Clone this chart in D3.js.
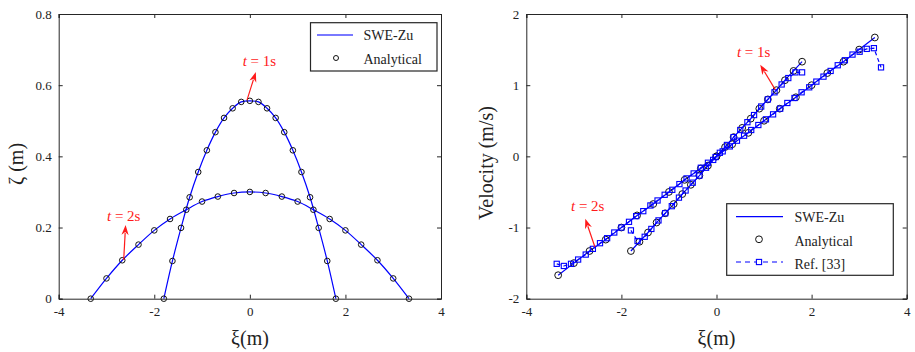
<!DOCTYPE html>
<html><head><meta charset="utf-8">
<script src="https://cdn.jsdelivr.net/npm/d3@7"></script>
<style>body{margin:0;background:#fff;} svg{display:block;font-family:"Liberation Serif","Times New Roman",serif;} text{font-family:"Liberation Serif","Times New Roman",serif !important;}</style>
</head><body>
<svg id="c" width="915" height="352"></svg>
<script>
// ---------- data ----------
const xTicks = [-4, -2, 0, 2, 4];
const zetaTicks = [0, 0.2, 0.4, 0.6, 0.8];
const velTicks = [-2, -1, 0, 1, 2];

// Free surface, t = 1 s
const xi1 = [-1.80,-1.62,-1.44,-1.26,-1.08,-0.90,-0.72,-0.54,-0.36,-0.18,0,0.18,0.36,0.54,0.72,0.90,1.08,1.26,1.44,1.62,1.80];
const zeta1 = [0,0.106,0.199,0.285,0.356,0.417,0.468,0.508,0.535,0.553,0.556,0.553,0.535,0.508,0.468,0.417,0.356,0.285,0.199,0.106,0];
// Free surface, t = 2 s
const xi2 = [-3.33,-3.00,-2.67,-2.33,-2.00,-1.67,-1.33,-1.00,-0.67,-0.33,0,0.33,0.67,1.00,1.33,1.67,2.00,2.33,2.67,3.00,3.33];
const zeta2 = [0,0.057,0.108,0.152,0.192,0.224,0.250,0.273,0.287,0.297,0.300,0.297,0.287,0.273,0.250,0.224,0.192,0.152,0.108,0.057,0];

// Velocity, analytical / SWE-Zu
const vel1 = [-1.33,-1.20,-1.07,-0.93,-0.80,-0.67,-0.53,-0.40,-0.27,-0.13,0,0.13,0.27,0.40,0.53,0.67,0.80,0.93,1.07,1.20,1.33];
const vel2 = [-1.67,-1.50,-1.33,-1.17,-1.00,-0.83,-0.67,-0.50,-0.33,-0.17,0,0.17,0.33,0.50,0.67,0.83,1.00,1.17,1.33,1.50,1.67];

// Velocity, Ref. [33]
const refXi1 = [-1.80,-1.66,-1.51,-1.37,-1.22,-1.08,-0.94,-0.79,-0.65,-0.50,-0.36,-0.22,-0.07,0.07,0.22,0.36,0.50,0.65,0.79,0.94,1.08,1.22,1.37,1.51,1.66,1.80];
const refVel1 = [-1.04,-1.19,-1.13,-1.02,-0.90,-0.80,-0.70,-0.58,-0.48,-0.37,-0.27,-0.16,-0.05,0.05,0.16,0.27,0.37,0.48,0.58,0.70,0.80,0.90,1.01,1.10,1.18,1.18];
const refXi2 = [-3.36,-3.21,-3.06,-2.91,-2.75,-2.60,-2.45,-2.30,-2.15,-2.00,-1.84,-1.69,-1.54,-1.39,-1.24,-1.09,-0.93,-0.78,-0.63,-0.48,-0.33,-0.18,-0.02,0.13,0.28,0.43,0.58,0.73,0.88,1.04,1.19,1.34,1.49,1.64,1.79,1.95,2.10,2.25,2.40,2.55,2.70,2.86,3.01,3.16,3.31,3.46];
const refVel2 = [-1.51,-1.54,-1.51,-1.45,-1.38,-1.30,-1.22,-1.15,-1.07,-1.00,-0.92,-0.84,-0.77,-0.69,-0.62,-0.54,-0.47,-0.39,-0.31,-0.24,-0.16,-0.09,-0.01,0.07,0.14,0.22,0.29,0.37,0.44,0.52,0.59,0.67,0.75,0.82,0.90,0.97,1.05,1.12,1.20,1.28,1.35,1.43,1.47,1.51,1.52,1.25];

// annotations: [label, textX, textY, arrowFromX, arrowFromY, arrowToX, arrowToY] in data units
const annLeft = [["1s", -0.15, 0.654, -0.06, 0.558, 0.125, 0.637], ["2s", -2.99, 0.218, -2.64, 0.109, -2.60, 0.207]];
const annRight = [["1s", 0.43, 1.40, 1.235, 0.937, 0.92, 1.288], ["2s", -3.06, -0.77, -2.557, -1.274, -2.76, -0.875]];

const legendLeft = ["SWE-Zu", "Analytical"];
const legendRight = ["SWE-Zu", "Analytical", "Ref. [33]"];

// ---------- drawing ----------
const svg = d3.select("#c");
const BLUE = "#0000ff", RED = "#ff1a1a", AX = "#262626";
const SERIF = "'Liberation Serif','Times New Roman',serif";
const fmt = d => String(d);

function zip(a, b) { return a.map((v, i) => [v, b[i]]); }

function frame(g, x, y, yt) {
  const [x0, x1] = x.range(), [y1, y0] = y.range();
  const styleAxis = sel => {
    sel.attr("font-family", SERIF).attr("font-size", 13);
    sel.selectAll("path.domain").attr("stroke", AX);
    sel.selectAll(".tick line").attr("stroke", AX);
    sel.selectAll("text").attr("fill", "#222");
  };
  g.append("g").attr("transform", `translate(0,${y1})`).call(d3.axisBottom(x).tickValues(xTicks).tickFormat(fmt).tickSize(-4).tickPadding(8)).call(styleAxis);
  g.append("g").attr("transform", `translate(0,${y0})`).call(d3.axisTop(x).tickValues(xTicks).tickFormat("").tickSize(-4)).call(styleAxis);
  g.append("g").attr("transform", `translate(${x0},0)`).call(d3.axisLeft(y).tickValues(yt).tickFormat(fmt).tickSize(-4).tickPadding(7)).call(styleAxis);
  g.append("g").attr("transform", `translate(${x1},0)`).call(d3.axisRight(y).tickValues(yt).tickFormat("").tickSize(-4)).call(styleAxis);
  g.selectAll("path.domain").attr("stroke-width", 1);
}

function arrows(g, x, y, anns) {
  anns.forEach(a => {
    const t = g.append("text").attr("x", x(a[1])).attr("y", y(a[2])).attr("fill", RED).style("font-size", "15px");
    t.append("tspan").style("font-style", "italic").text("t");
    t.append("tspan").text(" = " + a[0]);
    const fx = x(a[3]), fy = y(a[4]), tx = x(a[5]), ty = y(a[6]);
    const ang = Math.atan2(ty - fy, tx - fx), L = 10, W = 3.6;
    const bx = tx - L * Math.cos(ang), by = ty - L * Math.sin(ang);
    g.append("line").attr("x1", fx).attr("y1", fy).attr("x2", bx + 2 * Math.cos(ang)).attr("y2", by + 2 * Math.sin(ang))
      .attr("stroke", RED).attr("stroke-width", 1.2);
    const nx = -Math.sin(ang), ny = Math.cos(ang);
    const bx2 = tx - (L - 3) * Math.cos(ang), by2 = ty - (L - 3) * Math.sin(ang);
    g.append("path").attr("d", `M${tx},${ty}L${bx + nx * W},${by + ny * W}L${bx2},${by2}L${bx - nx * W},${by - ny * W}Z`).attr("fill", RED);
  });
}

// ---- left panel ----
const gL = svg.append("g");
const xL = d3.scaleLinear().domain([-4, 4]).range([58.7, 441]);
const yL = d3.scaleLinear().domain([0, 0.8]).range([298.7, 14]);
const lineL = d3.line().x(d => xL(d[0])).y(d => yL(d[1])).curve(d3.curveCatmullRom.alpha(0.5));
[zip(xi1, zeta1), zip(xi2, zeta2)].forEach(s => {
  gL.append("path").attr("d", lineL(s)).attr("fill", "none").attr("stroke", BLUE).attr("stroke-width", 1.2);
});
[zip(xi1, zeta1), zip(xi2, zeta2)].forEach(s => {
  gL.append("g").selectAll("circle").data(s).join("circle").attr("cx", d => xL(d[0])).attr("cy", d => yL(d[1]))
    .attr("r", 2.8).attr("fill", "none").attr("stroke", "#111").attr("stroke-width", 1);
});
frame(gL, xL, yL, zetaTicks);
arrows(gL, xL, yL, annLeft);
gL.append("text").attr("x", 250).attr("y", 345).attr("text-anchor", "middle").style("font-size", "20px").attr("fill", "#222").text("ξ(m)");
gL.append("text").attr("transform", "translate(23,164) rotate(-90)").attr("text-anchor", "middle").style("font-size", "20px").attr("fill", "#222").text("ζ (m)");
// legend left
const lgL = gL.append("g");
lgL.append("rect").attr("x", 310.5).attr("y", 22.7).attr("width", 126.5).attr("height", 48.3).attr("fill", "#fff").attr("stroke", AX).attr("stroke-width", 1.2);
lgL.append("line").attr("x1", 317).attr("x2", 353).attr("y1", 35).attr("y2", 35).attr("stroke", BLUE).attr("stroke-opacity", 0.7).attr("stroke-width", 1.5);
lgL.append("circle").attr("cx", 336).attr("cy", 58).attr("r", 2.5).attr("fill", "none").attr("stroke", "#111");
legendLeft.forEach((t, i) => lgL.append("text").attr("x", 363.5).attr("y", 40 + i * 24).style("font-size", "14px").attr("fill", "#222").text(t));

// ---- right panel ----
const gR = svg.append("g");
const xR = d3.scaleLinear().domain([-4, 4]).range([526.3, 906.7]);
const yR = d3.scaleLinear().domain([-2, 2]).range([298.7, 14]);
const lineR = d3.line().x(d => xR(d[0])).y(d => yR(d[1]));
[zip(xi1, vel1), zip(xi2, vel2)].forEach(s => {
  gR.append("path").attr("d", lineR(s)).attr("fill", "none").attr("stroke", BLUE).attr("stroke-width", 1.2);
});
[zip(xi1, vel1), zip(xi2, vel2)].forEach(s => {
  gR.append("g").selectAll("circle").data(s).join("circle").attr("cx", d => xR(d[0])).attr("cy", d => yR(d[1]))
    .attr("r", 3.4).attr("fill", "none").attr("stroke", "#111").attr("stroke-width", 1);
});
[zip(refXi1, refVel1), zip(refXi2, refVel2)].forEach(s => {
  gR.append("path").attr("d", lineR(s)).attr("fill", "none").attr("stroke", BLUE).attr("stroke-width", 1.2).attr("stroke-dasharray", "4,3");
  gR.append("g").selectAll("rect").data(s).join("rect").attr("x", d => xR(d[0]) - 2.6).attr("y", d => yR(d[1]) - 2.6)
    .attr("width", 5.2).attr("height", 5.2).attr("fill", "none").attr("stroke", BLUE).attr("stroke-width", 1.1);
});
frame(gR, xR, yR, velTicks);
arrows(gR, xR, yR, annRight);
gR.append("text").attr("x", 716.5).attr("y", 345).attr("text-anchor", "middle").style("font-size", "20px").attr("fill", "#222").text("ξ(m)");
gR.append("text").attr("transform", "translate(493,163) rotate(-90)").attr("text-anchor", "middle").style("font-size", "20px").attr("fill", "#222").text("Velocity (m/s)");
// legend right
const lgR = gR.append("g");
lgR.append("rect").attr("x", 726.7).attr("y", 203.7).attr("width", 166.6).attr("height", 71.6).attr("fill", "#fff").attr("stroke", AX).attr("stroke-width", 1.2);
lgR.append("line").attr("x1", 736).attr("x2", 783).attr("y1", 216.7).attr("y2", 216.7).attr("stroke", BLUE).attr("stroke-width", 1.2);
lgR.append("circle").attr("cx", 759).attr("cy", 239.3).attr("r", 3.4).attr("fill", "none").attr("stroke", "#111");
lgR.append("line").attr("x1", 736).attr("x2", 783).attr("y1", 262).attr("y2", 262).attr("stroke", BLUE).attr("stroke-width", 1.2).attr("stroke-dasharray", "5,4");
lgR.append("rect").attr("x", 756.4).attr("y", 259.4).attr("width", 5.2).attr("height", 5.2).attr("fill", "#fff").attr("stroke", BLUE).attr("stroke-width", 1.1);
legendRight.forEach((t, i) => lgR.append("text").attr("x", 794.5).attr("y", 222 + i * 23.5).style("font-size", "14px").attr("fill", "#222").text(t));
</script>
</body></html>
